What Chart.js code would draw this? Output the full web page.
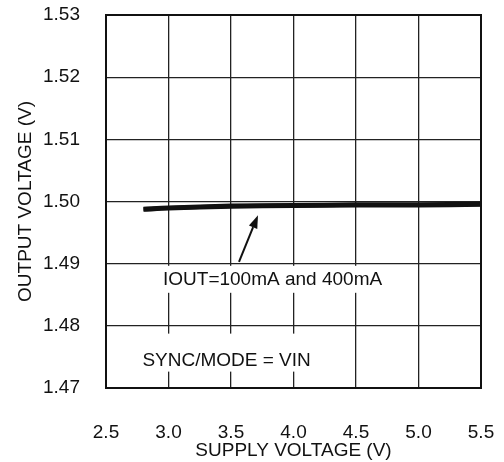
<!DOCTYPE html>
<html>
<head>
<meta charset="utf-8">
<script src="https://cdn.jsdelivr.net/npm/chart.js@4"></script>
<style>
  body { margin: 0; background: #fff; }
  #wrap { width: 504px; height: 462px; }
</style>
</head>
<body>
<div id="wrap"><canvas id="chart" width="504" height="462"></canvas></div>
<script>
// ---------------------------------------------------------
// DATA
// ---------------------------------------------------------
const supplyVoltage = [2.8, 3.0, 3.5, 4.0, 4.5, 5.0, 5.5];
const vout100mA = [1.4988, 1.4990, 1.4993, 1.4994, 1.4995, 1.4995, 1.4996];
const vout400mA = [1.4987, 1.4989, 1.4992, 1.4993, 1.4994, 1.4994, 1.4995];

const xTicks = [2.5, 3.0, 3.5, 4.0, 4.5, 5.0, 5.5];
const yTicks = [1.47, 1.48, 1.49, 1.50, 1.51, 1.52, 1.53];

// annotations, in data units
const labelIout = { text: "IOUT=100mA and 400mA", x: 2.956, y: 1.4866, padTop: 19, padBottom: 8 };
const labelSync = { text: "SYNC/MODE = VIN", x: 2.791, y: 1.4736, padTop: 32, padBottom: 6 };
const arrowTail = { x: 3.564, y: 1.4903 };
const arrowTip = { x: 3.716, y: 1.4978 };

const FONT = '"Liberation Sans", Arial, sans-serif';
const INK = "#111";

// big tick paddings would otherwise push the plot area in
function fixBox(width, height) {
  return s => {
    if (width) s.width = width;
    if (height) s.height = height;
    s.paddingTop = s.paddingBottom = s.paddingLeft = s.paddingRight = 0;
  };
}

// ---------------------------------------------------------
// PLUGIN: frame, labels with white boxes, arrow
// ---------------------------------------------------------
const annotations = {
  id: "annotations",
  afterDatasetsDraw(chart) {
    const { ctx, chartArea: a, scales: { x, y } } = chart;
    ctx.save();

    // frame
    ctx.strokeStyle = INK;
    ctx.lineWidth = 2;
    ctx.strokeRect(a.left, a.top, a.right - a.left, a.bottom - a.top);

    // labels
    ctx.font = `19px ${FONT}`;
    ctx.textBaseline = "alphabetic";
    ctx.textAlign = "left";
    [labelIout, labelSync].forEach(l => {
      const px = x.getPixelForValue(l.x);
      const py = y.getPixelForValue(l.y);
      const w = ctx.measureText(l.text).width;
      ctx.fillStyle = "#fff";
      ctx.fillRect(px - 4, py - l.padTop, w + 8, l.padTop + l.padBottom);
      ctx.fillStyle = INK;
      ctx.fillText(l.text, px, py);
    });

    // arrow
    const tx = x.getPixelForValue(arrowTail.x), ty = y.getPixelForValue(arrowTail.y);
    const hx = x.getPixelForValue(arrowTip.x), hy = y.getPixelForValue(arrowTip.y);
    const ang = Math.atan2(hy - ty, hx - tx);
    const len = 13, half = 4.5;
    const bx = hx - len * Math.cos(ang), by = hy - len * Math.sin(ang);
    ctx.strokeStyle = INK;
    ctx.lineWidth = 2;
    ctx.beginPath();
    ctx.moveTo(tx, ty);
    ctx.lineTo(bx, by);
    ctx.stroke();
    ctx.fillStyle = INK;
    ctx.beginPath();
    ctx.moveTo(hx, hy);
    ctx.lineTo(bx + half * Math.sin(ang), by - half * Math.cos(ang));
    ctx.lineTo(bx - half * Math.sin(ang), by + half * Math.cos(ang));
    ctx.closePath();
    ctx.fill();

    ctx.restore();
  }
};

// ---------------------------------------------------------
// CHART
// ---------------------------------------------------------
const series = (label, values) => ({
  label,
  data: supplyVoltage.map((v, i) => ({ x: v, y: values[i] })),
  borderColor: INK,
  borderWidth: 4.5,
  pointRadius: 0,
  fill: false,
  tension: 0.3
});

new Chart(document.getElementById("chart"), {
  type: "line",
  data: {
    datasets: [
      series("IOUT=100mA", vout100mA),
      series("IOUT=400mA", vout400mA)
    ]
  },
  options: {
    responsive: false,
    animation: false,
    layout: { padding: { top: 15, right: 23, left: 0, bottom: 0 } },
    plugins: {
      legend: { display: false },
      tooltip: { enabled: false }
    },
    scales: {
      x: {
        type: "linear",
        min: 2.5,
        max: 5.5,
        afterFit: fixBox(0, 74),
        afterBuildTicks: s => { s.ticks = xTicks.map(v => ({ value: v })); },
        ticks: {
          padding: 33,
          color: INK,
          font: { family: FONT, size: 19 },
          callback: v => v.toFixed(1)
        },
        grid: { color: "#222", lineWidth: 1.3, drawTicks: false },
        border: { color: INK, width: 2 },
        title: {
          display: true,
          text: "SUPPLY VOLTAGE (V)",
          color: INK,
          font: { family: FONT, size: 19 },
          padding: { top: 0, bottom: 0 }
        }
      },
      y: {
        type: "linear",
        min: 1.47,
        max: 1.53,
        afterFit: fixBox(106, 0),
        afterBuildTicks: s => { s.ticks = yTicks.map(v => ({ value: v })); },
        ticks: {
          padding: 26,
          color: INK,
          font: { family: FONT, size: 19 },
          callback: v => v.toFixed(2)
        },
        grid: { color: "#222", lineWidth: 1.3, drawTicks: false },
        border: { color: INK, width: 2 },
        title: {
          display: true,
          text: "OUTPUT VOLTAGE (V)",
          color: INK,
          font: { family: FONT, size: 19 },
          padding: { top: 14, bottom: 0 }
        }
      }
    }
  },
  plugins: [annotations]
});
</script>
</body>
</html>
